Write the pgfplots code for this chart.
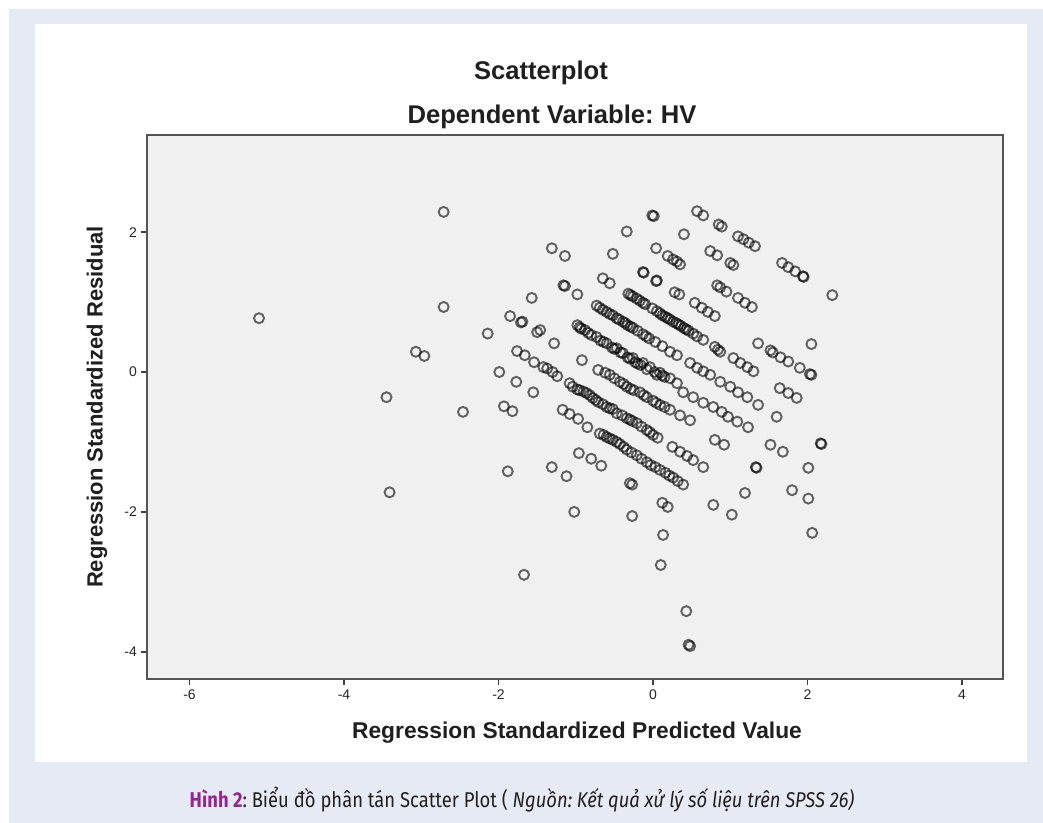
\documentclass[border=0pt]{standalone}
\usepackage{pgfplots}
\pgfplotsset{compat=1.18}
\usepackage{fontspec}
\setmainfont{Liberation Sans}
\newfontfamily\capfont[FakeStretch=0.86]{Fira Sans}
\definecolor{frameblue}{HTML}{E6EAF5}
\definecolor{plotbg}{HTML}{F0F0F0}
\definecolor{capPurple}{HTML}{93278F}
\definecolor{axisgray}{HTML}{555555}
\definecolor{captext}{HTML}{231F20}
\frenchspacing

\pgfplotstableread{
x y
-5.10 0.77
-2.71 2.29
-2.71 0.93
-3.07 0.29
-2.96 0.23
-3.45 -0.36
-3.41 -1.72
-2.46 -0.57
-2.14 0.55
-1.99 0.00
-1.93 -0.49
-1.82 -0.56
-1.88 -1.42
-1.67 -2.90
-1.02 -2.00
-1.31 -1.36
-1.12 -1.49
-0.27 -2.06
0.13 -2.33
0.10 -2.76
0.43 -3.42
0.46 -3.90
0.48 -3.92
0.57 2.30
0.65 2.24
0.85 2.11
0.89 2.08
1.10 1.94
1.17 1.90
1.24 1.85
1.32 1.80
1.67 1.56
1.75 1.50
1.84 1.44
1.94 1.37
1.95 1.36
2.32 1.10
-0.01 2.24
0.01 2.23
0.40 1.97
0.74 1.73
0.83 1.67
1.00 1.56
1.04 1.53
-0.34 2.01
0.04 1.77
0.19 1.66
0.26 1.61
0.31 1.58
0.35 1.54
0.83 1.24
0.87 1.21
0.95 1.15
1.10 1.06
1.19 0.99
1.28 0.93
2.05 0.40
-0.52 1.69
-0.13 1.43
-0.12 1.42
0.04 1.30
0.05 1.31
0.28 1.14
0.34 1.11
0.54 0.99
0.63 0.92
0.71 0.86
0.80 0.80
1.36 0.41
1.52 0.31
1.55 0.28
1.65 0.21
1.75 0.15
1.90 0.06
2.03 -0.03
2.05 -0.04
-1.31 1.77
-1.14 1.66
-0.65 1.34
-0.56 1.27
-0.32 1.12
-0.29 1.10
-0.26 1.08
-0.21 1.05
-0.17 1.02
-0.13 0.99
-0.10 0.97
-0.01 0.91
0.05 0.87
0.09 0.84
0.12 0.81
0.16 0.79
0.19 0.77
0.22 0.75
0.26 0.72
0.30 0.70
0.33 0.68
0.36 0.66
0.40 0.63
0.43 0.61
0.46 0.59
0.52 0.55
0.57 0.51
0.65 0.46
0.80 0.36
0.84 0.32
0.87 0.29
1.04 0.20
1.13 0.13
1.22 0.07
1.30 0.01
1.64 -0.23
1.75 -0.30
1.86 -0.37
-1.16 1.24
-1.14 1.23
-0.98 1.11
-0.73 0.95
-0.69 0.92
-0.65 0.89
-0.60 0.86
-0.56 0.83
-0.52 0.81
-0.47 0.77
-0.44 0.75
-0.39 0.72
-0.36 0.70
-0.33 0.67
-0.29 0.65
-0.26 0.63
-0.20 0.59
-0.13 0.54
-0.09 0.51
-0.05 0.48
0.03 0.43
0.12 0.37
0.22 0.29
0.31 0.24
0.48 0.13
0.57 0.06
0.65 0.01
0.74 -0.04
0.87 -0.14
1.00 -0.21
1.10 -0.29
1.22 -0.36
1.36 -0.47
1.60 -0.64
2.18 -1.03
2.17 -1.02
-1.57 1.06
-0.98 0.67
-0.95 0.64
-0.93 0.62
-0.88 0.60
-0.84 0.56
-0.80 0.53
-0.73 0.50
-0.68 0.45
-0.64 0.43
-0.60 0.41
-0.53 0.35
-0.50 0.33
-0.47 0.34
-0.42 0.28
-0.39 0.27
-0.33 0.21
-0.30 0.19
-0.26 0.20
-0.23 0.14
-0.20 0.12
-0.16 0.10
-0.13 0.13
-0.08 0.04
-0.04 0.07
0.02 0.00
0.05 -0.04
0.09 -0.01
0.12 -0.05
0.15 -0.07
0.22 -0.09
0.31 -0.16
0.39 -0.29
0.52 -0.36
0.65 -0.44
0.78 -0.50
0.89 -0.57
0.97 -0.64
1.09 -0.71
1.23 -0.79
1.52 -1.04
1.68 -1.14
2.01 -1.37
-1.85 0.80
-1.71 0.71
-1.69 0.72
-1.50 0.57
-1.46 0.60
-1.28 0.41
-0.92 0.17
-0.71 0.03
-0.62 -0.01
-0.56 -0.04
-0.50 -0.09
-0.43 -0.14
-0.38 -0.17
-0.34 -0.21
-0.29 -0.24
-0.25 -0.26
-0.17 -0.29
-0.12 -0.33
-0.08 -0.36
0.00 -0.41
0.04 -0.44
0.09 -0.47
0.15 -0.50
0.22 -0.54
0.35 -0.62
0.48 -0.69
0.80 -0.97
0.92 -1.04
1.33 -1.36
1.34 -1.37
1.80 -1.69
2.01 -1.81
-1.76 0.30
-1.66 0.24
-1.54 0.14
-1.42 0.07
-1.37 0.05
-1.30 0.00
-1.24 -0.06
-1.08 -0.16
-1.04 -0.21
-0.98 -0.25
-0.95 -0.26
-0.90 -0.28
-0.86 -0.30
-0.82 -0.33
-0.78 -0.37
-0.74 -0.40
-0.71 -0.43
-0.65 -0.46
-0.60 -0.50
-0.56 -0.52
-0.52 -0.53
-0.47 -0.59
-0.40 -0.62
-0.34 -0.66
-0.30 -0.68
-0.27 -0.70
-0.21 -0.73
-0.15 -0.78
-0.08 -0.83
-0.04 -0.86
0.00 -0.90
0.06 -0.94
0.25 -1.07
0.35 -1.14
0.44 -1.20
0.52 -1.26
0.65 -1.36
1.19 -1.73
2.06 -2.30
-1.77 -0.14
-1.55 -0.29
-1.17 -0.54
-1.08 -0.60
-0.97 -0.67
-0.85 -0.79
-0.69 -0.88
-0.64 -0.90
-0.60 -0.93
-0.56 -0.95
-0.52 -0.97
-0.47 -1.00
-0.43 -1.03
-0.38 -1.07
-0.34 -1.11
-0.28 -1.15
-0.21 -1.19
-0.15 -1.24
-0.08 -1.29
-0.03 -1.33
0.03 -1.36
0.09 -1.40
0.16 -1.44
0.21 -1.48
0.26 -1.51
0.32 -1.56
0.39 -1.61
0.78 -1.90
1.02 -2.04
-0.96 -1.16
-0.80 -1.24
-0.67 -1.34
-0.30 -1.59
-0.27 -1.61
0.12 -1.87
0.19 -1.93
}\residtable

\begin{document}
\begin{tikzpicture}[x=0.5pt,y=0.5pt]
\useasboundingbox (0,0) rectangle (1043,823);
\fill[white] (0,0) rectangle (1043,823);
\fill[frameblue] (9,0) rectangle (1043,814);
\fill[white] (35,61) rectangle (1027,799);
\begin{axis}[
  at={(73.5pt,72pt)}, anchor=south west,
  scale only axis, width=428pt, height=272pt,
  xmin=-6.55, xmax=4.53, ymin=-4.39, ymax=3.39,
  xtick={-6,-4,-2,0,2,4}, ytick={-4,-2,0,2},
  axis background/.style={fill=plotbg},
  axis line style={draw=axisgray, line width=0.9pt},
  tick style={draw=black!75, line width=0.8pt},
  major tick length=3pt, tick align=outside,
  xtick pos=bottom, ytick pos=left,
  /pgf/number format/assume math mode=true,
  ticklabel style={font=\fontsize{7}{8}\selectfont, text=black!85},
  xticklabel style={yshift=1pt},
  yticklabel style={xshift=1.5pt},
  clip=true,
]
\addplot[only marks, mark=o, mark size=2.5pt,
  mark options={draw=black, draw opacity=0.6, line width=0.95pt}]
  table[x=x, y=y] {\residtable};
\end{axis}
\node[font=\bfseries\fontsize{12.8}{15}\selectfont, text=black!88] at (541,750) {Scatterplot};
\node[font=\bfseries\fontsize{12.8}{15}\selectfont, text=black!88] at (552,706) {Dependent Variable: HV};
\node[font=\bfseries\fontsize{11.4}{14}\selectfont, text=black!88] at (577,90) {Regression Standardized Predicted Value};
\node[font=\bfseries\fontsize{11}{14}\selectfont, text=black!88, rotate=90] at (97,416) {Regression Standardized Residual};
\node[font=\capfont\fontsize{10.7}{13}\selectfont, text=captext] at (522,23)
  {{\bfseries\color{capPurple}Hình 2}: Biểu đồ phân tán Scatter Plot ( \itshape Nguồn: Kết quả xử lý số liệu trên SPSS 26)};
\end{tikzpicture}
\end{document}
